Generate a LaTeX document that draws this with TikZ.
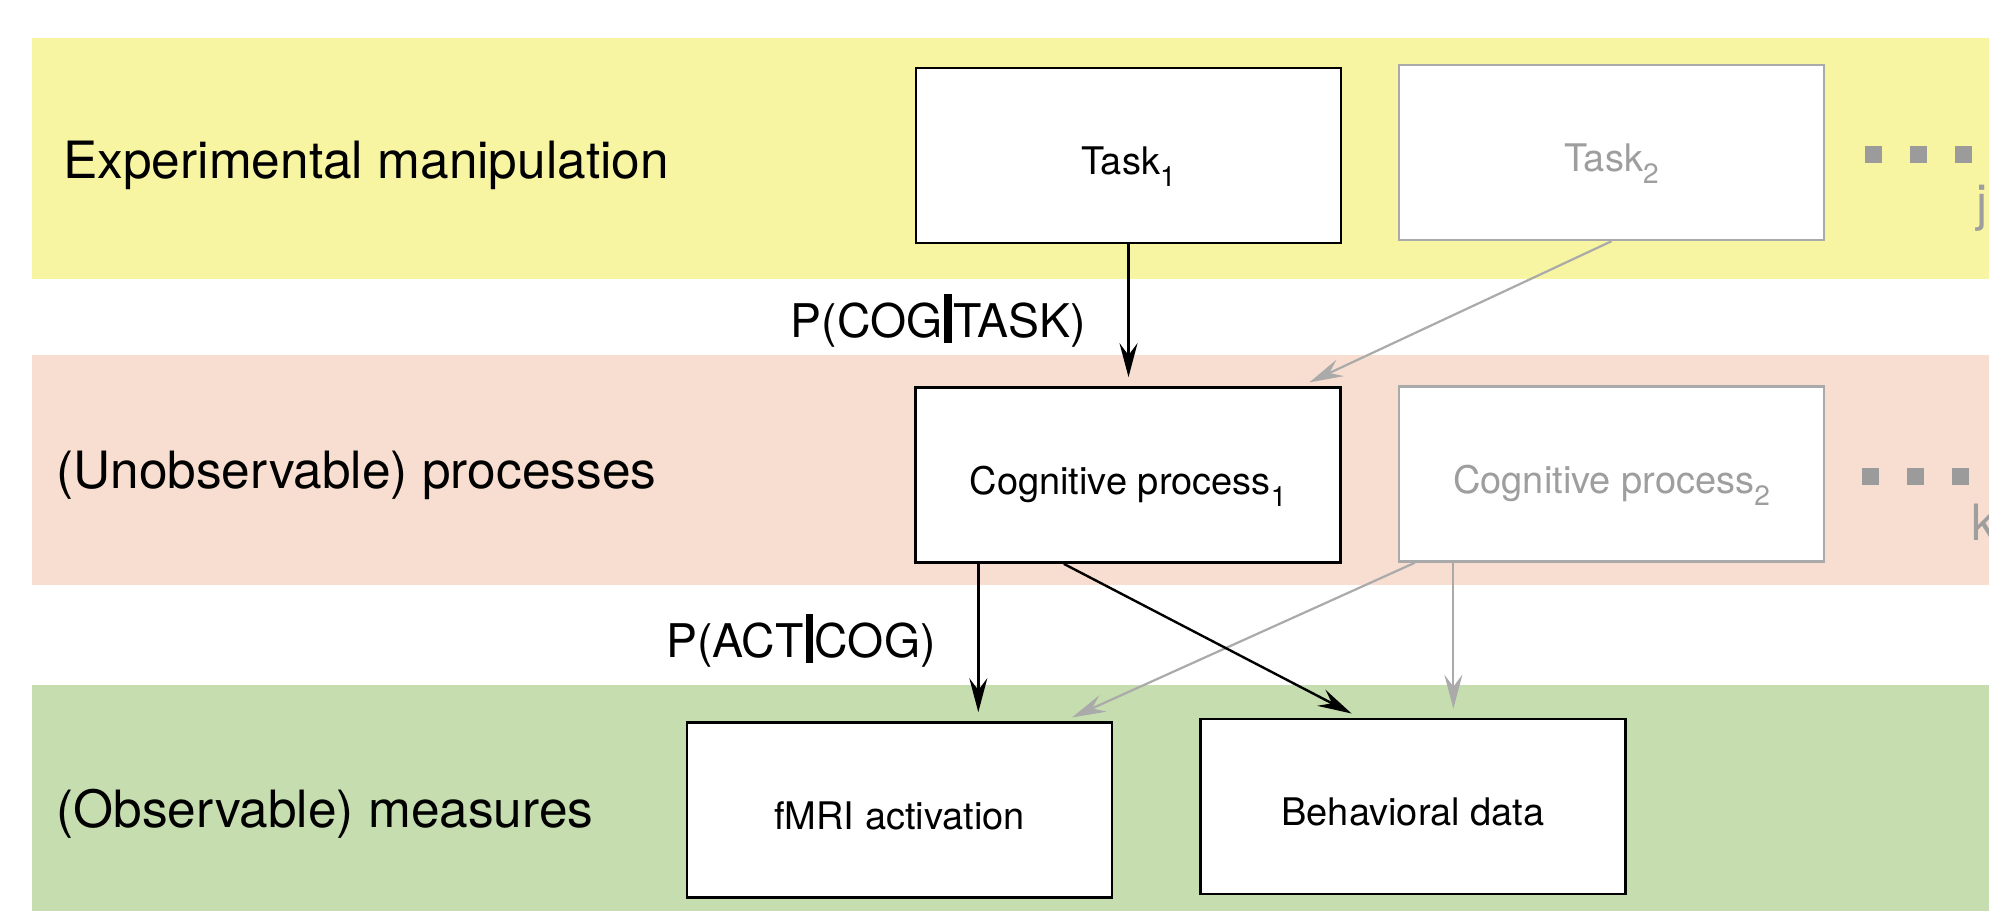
\documentclass[tikz,border=0pt]{standalone}
\usepackage{fontspec}
\setmainfont{TeX Gyre Heros}
\usetikzlibrary{arrows.meta,calc}
\definecolor{bandY}{RGB}{247,244,162}
\definecolor{bandP}{RGB}{247,222,208}
\definecolor{bandG}{RGB}{198,221,176}
\definecolor{lgray}{RGB}{170,170,170}
\definecolor{tgray}{RGB}{158,158,158}
\definecolor{dgray}{RGB}{155,155,155}
\newcommand{\mysub}[1]{\raisebox{-6pt}{\fontsize{14}{14}\selectfont #1}}
\newcommand{\bigbar}{\kern0.04em\rule[-0.13em]{0.16em}{1.06em}\kern0.04em}
\tikzset{
  bandlabel/.style={anchor=base west, inner sep=0pt, font=\fontsize{25.7}{30}\selectfont},
  plabel/.style={anchor=base east, inner sep=0pt, font=\fontsize{23.2}{27}\selectfont},
  boxcommon/.style={fill=white, minimum width=212.5pt, minimum height=87.5pt, inner sep=0pt, text height=19pt, text depth=0pt, font=\fontsize{19}{22}\selectfont},
  blkbox/.style={boxcommon, draw=black, line width=1.35pt},
  grybox/.style={boxcommon, draw=lgray, line width=1.2pt, text=tgray},
  blkarrow/.style={draw=black, line width=1.2pt, shorten >=4.5pt, -{Stealth[length=17pt,width=9pt,inset=6pt]}},
  gryarrow/.style={draw=lgray, line width=1.1pt, shorten >=4.5pt, -{Stealth[length=17pt,width=9pt,inset=6pt]}},
  dotsq/.style={fill=dgray, minimum size=8.5pt, inner sep=0pt},
  idx/.style={anchor=base west, inner sep=0pt, text=tgray, font=\fontsize{25}{30}\selectfont}
}
\begin{document}
\begin{tikzpicture}[x=0.5pt,y=-0.5pt]
\useasboundingbox (0,0) rectangle (1989,911);
% bands
\fill[bandY] (32,38) rectangle (1989,279);
\fill[bandP] (32,355) rectangle (1989,585);
\fill[bandG] (32,685) rectangle (1989,911);
% band labels
\node[bandlabel] (l1) at (63,178) {Experimental manipulation};
\node[bandlabel] (l2) at (56,488) {(Unobservable) processes};
\node[bandlabel] (l3) at (56,827) {(Observable) measures};
% boxes
\node[blkbox] (task1) at (1128.5,155.5) {Task\mysub{1}};
\node[grybox] (task2) at (1611.5,152.5) {Task\mysub{2}};
\node[blkbox] (cog1) at (1128,475) {Cognitive process\mysub{1}};
\node[grybox] (cog2) at (1611.5,474) {Cognitive process\mysub{2}};
\node[blkbox] (fmri) at (899.5,810) {fMRI activation};
\node[blkbox] (behav) at (1413,806.5) {Behavioral data};
% dots and indices
\node[dotsq] (d1) at (1873.5,154.5) {};
\node[dotsq] (d2) at (1918.5,154.5) {};
\node[dotsq] (d3) at (1963.5,154.5) {};
\node[idx] (j) at (1976,220) {j};
\node[dotsq] (d4) at (1870.5,476.5) {};
\node[dotsq] (d5) at (1915.5,476.5) {};
\node[dotsq] (d6) at (1960.5,476.5) {};
\node[idx] (k) at (1971,540) {k};
% probability labels
\node[plabel] (pcog) at (1086,337) {P(COG\bigbar TASK)};
\node[plabel] (pact) at (936,657) {P(ACT\bigbar COG)};
% connectors
\draw[gryarrow] (task2.south) -- ($(cog1.north)!0.81!(cog1.north east)$);
\draw[blkarrow] (task1.south) -- (task1.south |- cog1.north);
\coordinate (c2a) at ($(cog2.south west)!0.04!(cog2.south east)$);
\coordinate (c2b) at ($(cog2.south west)!0.13!(cog2.south east)$);
\draw[gryarrow] (c2a) -- ($(fmri.north west)!0.884!(fmri.north east)$);
\draw[gryarrow] (c2b) -- (c2b |- behav.north);
\coordinate (c1a) at ($(cog1.south west)!0.15!(cog1.south east)$);
\coordinate (c1b) at ($(cog1.south west)!0.35!(cog1.south east)$);
\draw[blkarrow] (c1a) -- (c1a |- fmri.north);
\draw[blkarrow] (c1b) -- ($(behav.north west)!0.375!(behav.north east)$);
\end{tikzpicture}
\end{document}
